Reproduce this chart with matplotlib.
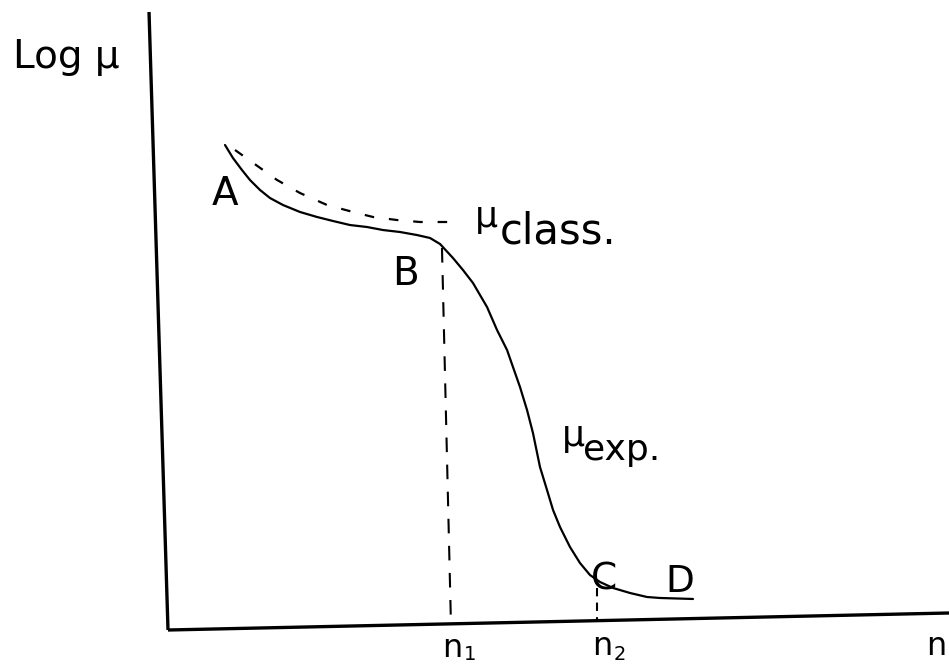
import matplotlib
matplotlib.use("Agg")
import matplotlib.pyplot as plt

# ---- data (schematic units: n from 0..100, log mu from 0..100) ----
n_exp = [7.30, 8.32, 9.47, 10.50, 11.78, 13.06, 14.72, 16.90, 19.08, 21.13,
         23.30, 25.48, 27.53, 29.71, 31.88, 33.55, 34.83, 36.49, 37.77, 39.05,
         40.85, 42.13, 43.41, 44.17, 45.07, 45.97, 46.73, 47.63, 48.53, 49.30,
         50.19, 51.47, 52.75, 54.03, 55.31, 56.98, 59.15, 61.33, 63.00, 67.22]
logmu_exp = [78.48, 76.37, 74.43, 72.81, 71.20, 69.90, 68.77, 67.64, 66.83, 66.18,
             65.53, 65.21, 64.72, 64.40, 63.91, 63.43, 62.46, 60.19, 58.25, 56.15,
             52.26, 48.54, 45.31, 42.56, 39.32, 35.60, 31.88, 26.37, 22.65, 19.42,
             16.67, 13.43, 10.84, 8.90, 7.77, 6.80, 5.99, 5.34, 5.18, 5.02]

n_class = [8.58, 13.96, 16.90, 20.36, 23.69, 26.25, 29.32, 32.27, 36.36]
logmu_class = [77.67, 72.82, 70.71, 68.77, 67.64, 66.83, 66.34, 66.02, 66.02]

n1_line_x = [35.08, 36.23]
n1_line_y = [61.81, 0.97]
n2_line_x = [54.93, 54.93]
n2_line_y = [6.80, 1.78]

yaxis_x = [-2.43, 0.0]
yaxis_y = [100.0, 0.0]
xaxis_x = [0.0, 100.0]
xaxis_y = [0.0, 2.75]

W, H = 949, 666
fig = plt.figure(figsize=(W / 100, H / 100), dpi=100)
ax = fig.add_axes([168 / W, (H - 630) / H, 781 / W, 618 / H])
ax.set_xlim(0, 100)
ax.set_ylim(0, 100)
ax.axis("off")

plt.rcParams['font.family'] = ['DejaVu Sans']

# axes drawn by hand (slightly tilted)
ax.plot(yaxis_x, yaxis_y, color="black", lw=2.4, clip_on=False, solid_capstyle="butt")
ax.plot(xaxis_x, xaxis_y, color="black", lw=2.4, clip_on=False, solid_capstyle="butt")

# experimental curve
ax.plot(n_exp, logmu_exp, color="black", lw=1.6, clip_on=False,
        solid_joinstyle="round", solid_capstyle="round")
# classical curve (dashed)
ax.plot(n_class, logmu_class, color="black", lw=1.6, dashes=(4.3, 6.7), clip_on=False)
# vertical dashed guides
ax.plot(n1_line_x, n1_line_y, color="black", lw=1.5, dashes=(7, 6), clip_on=False)
ax.plot(n2_line_x, n2_line_y, color="black", lw=1.5, dashes=(4, 3), clip_on=False)

def txt(x, y, s, size):
    ax.text(x, y, s, fontsize=size, ha="left", va="baseline", color="black",
            clip_on=False)

txt(-19.85, 90.94, "Log μ", 28)
txt(5.63, 68.77, "A", 28)
txt(28.68, 55.82, "B", 28)
txt(39.31, 65.21, "μ", 26)
txt(42.51, 62.62, "class.", 30)
txt(50.45, 29.77, "μ", 26)
txt(53.14, 27.51, "exp.", 26)
txt(54.16, 6.63, "C", 27)
txt(63.64, 6.15, "D", 27)
txt(35.08, -4.37, "n", 23)
txt(37.90, -4.90, "1", 14)
txt(54.29, -4.05, "n", 23)
txt(57.10, -4.90, "2", 14)
txt(97.10, -4.05, "n", 23)

fig.savefig("out.png", dpi=100)
